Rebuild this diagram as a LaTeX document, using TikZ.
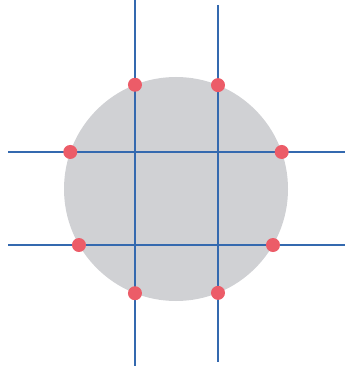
\documentclass[tikz,border=0pt]{standalone}
\usepackage{tikz}
\usetikzlibrary{intersections}
\usepackage{xcolor}

\definecolor{diskgray}{RGB}{208,209,212}
\definecolor{gridblue}{RGB}{52,105,175}
\definecolor{dotred}{RGB}{236,92,104}

\tikzset{
  gridline/.style={gridblue, line width=1.6pt},
  hitdot/.style={circle, fill=dotred, inner sep=0pt, minimum size=0.42cm}
}

\begin{document}
\begin{tikzpicture}[x=0.03cm, y=-0.03cm]
    \useasboundingbox (0,0) rectangle (347,372);

    % Gray disk
    \fill[diskgray, name path=disk] (176,189) circle[radius=112];

    % Vertical lines
    \draw[gridline, name path=vleft] (135,0) -- (135,366);
    \draw[gridline, name path=vright] (218,5) -- (218,362);

    % Horizontal lines
    \draw[gridline, name path=htop] (8,152) -- (345,152);
    \draw[gridline, name path=hbot] (8,245) -- (345,245);

    % Points where the lines cut the boundary
    \path[name intersections={of=disk and vleft, by={vl1,vl2}}];
    \path[name intersections={of=disk and vright, by={vr1,vr2}}];
    \path[name intersections={of=disk and htop, by={ht1,ht2}}];
    \path[name intersections={of=disk and hbot, by={hb1,hb2}}];

    \node[hitdot] (dvl1) at (vl1) {};
    \node[hitdot] (dvl2) at (vl2) {};
    \node[hitdot] (dvr1) at (vr1) {};
    \node[hitdot] (dvr2) at (vr2) {};
    \node[hitdot] (dht1) at (ht1) {};
    \node[hitdot] (dht2) at (ht2) {};
    \node[hitdot] (dhb1) at (hb1) {};
    \node[hitdot] (dhb2) at (hb2) {};
\end{tikzpicture}
\end{document}
